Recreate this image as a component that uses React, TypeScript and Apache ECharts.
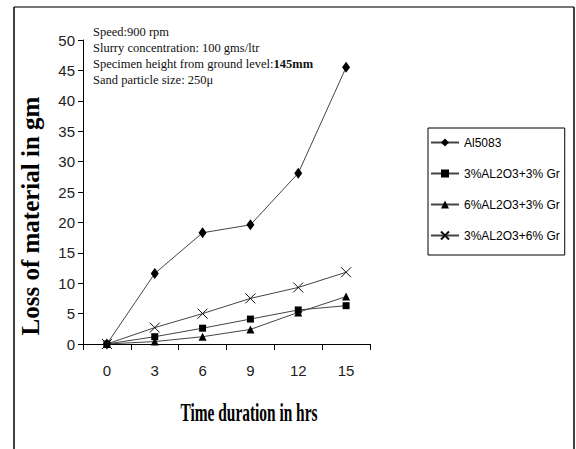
import React, { useEffect, useRef } from "react";
import * as echarts from "echarts";

const categories = ["0", "3", "6", "9", "12", "15"];
const seriesNames = ["Al5083", "3%AL2O3+3% Gr", "6%AL2O3+3% Gr", "3%AL2O3+6% Gr"];
const al5083 = [0, 11.6, 18.3, 19.6, 28.1, 45.5];
const al3gr3 = [0, 1.2, 2.6, 4.1, 5.6, 6.3];
const al6gr3 = [0, 0.4, 1.2, 2.4, 5.2, 7.8];
const al3gr6 = [0, 2.7, 5.0, 7.5, 9.3, 11.8];
const yTicks = { min: 0, max: 50, interval: 5 };
const notes = [
  "Speed:900 rpm",
  "Slurry concentration: 100 gms/ltr",
  "Specimen height from ground level:",
  "Sand particle size: 250\u03bc",
];
const noteBold = "145mm";

const sans = "'Liberation Sans', Arial, sans-serif";
const serif = "'Liberation Serif', 'Times New Roman', serif";

export default function App() {
  const ref = useRef<HTMLDivElement>(null);
  useEffect(() => {
    if (!ref.current) return;
    const chart = echarts.init(ref.current, null, { renderer: "svg" });
    const lineStyle = { color: "#444", width: 1 };
    const mk = (name: string, data: number[], symbol: string, size: any, hollow = false) => ({
      name,
      type: "line",
      data,
      symbol,
      symbolSize: size,
      showSymbol: true,
      lineStyle,
      itemStyle: hollow
        ? { color: "rgba(0,0,0,0)", borderColor: "#111", borderWidth: 1 }
        : { color: "#000", borderWidth: 0 },
      emphasis: { disabled: true },
    });
    chart.setOption({
      animation: false,
      backgroundColor: "#fff",
      grid: { left: 83, top: 40, width: 287, height: 304, containLabel: false },
      xAxis: {
        type: "category",
        data: categories,
        boundaryGap: true,
        axisLine: { show: true, lineStyle: { color: "#000", width: 1 } },
        axisTick: { show: true, length: 6, lineStyle: { color: "#000" } },
        axisLabel: { color: "#222", fontFamily: sans, fontSize: 15, margin: 19 },
        splitLine: { show: false },
      },
      yAxis: {
        type: "value",
        min: yTicks.min,
        max: yTicks.max,
        interval: yTicks.interval,
        axisLine: { show: true, lineStyle: { color: "#000", width: 1 } },
        axisTick: { show: true, length: 5, lineStyle: { color: "#000" } },
        axisLabel: { color: "#222", fontFamily: sans, fontSize: 15, margin: 8 },
        splitLine: { show: false },
      },
      legend: {
        orient: "vertical",
        left: 428,
        top: 128,
        padding: [7, 5, 12, 2],
        itemWidth: 28,
        itemHeight: 10,
        itemGap: 16,
        borderColor: "#000",
        borderWidth: 1,
        data: seriesNames,
        textStyle: { fontFamily: sans, fontSize: 12, color: "#000", lineHeight: 15 },
      },
      series: [
        mk(seriesNames[0], al5083, "diamond", [8, 11]),
        mk(seriesNames[1], al3gr3, "rect", 7),
        mk(seriesNames[2], al6gr3, "triangle", 8),
        mk(seriesNames[3], al3gr6, "path://M0,0L10,10M10,0L0,10", 10, true),
      ],
      graphic: [
        { type: "line", shape: { x1: 14, y1: 7, x2: 574, y2: 7 }, style: { stroke: "#777", lineWidth: 2 } },
        { type: "line", shape: { x1: 14, y1: 7, x2: 14, y2: 449 }, style: { stroke: "#000", lineWidth: 1.5 } },
        { type: "line", shape: { x1: 574, y1: 7, x2: 574, y2: 449 }, style: { stroke: "#000", lineWidth: 1.5 } },
        ...notes.map((t, i) => ({
          type: "text",
          x: 93,
          y: 32 + i * 16,
          style: {
            text: i === 2 ? `{a|${t}}{b|${noteBold}}` : t,
            fontFamily: serif,
            fontSize: 12.5,
            fill: "#111",
            verticalAlign: "middle",
            rich: {
              a: { fontFamily: serif, fontSize: 12.5, fill: "#111" },
              b: { fontWeight: "bold", fontFamily: serif, fontSize: 12.5, fill: "#111" },
            },
          },
        })),
        {
          type: "text",
          x: 249,
          y: 413,
          scaleY: 1.6,
          style: {
            text: "Time duration in hrs",
            font: `bold 15.4px ${serif}`,
            fill: "#000",
            align: "center",
            verticalAlign: "middle",
          },
        },
        {
          type: "text",
          x: 30,
          y: 216,
          rotation: Math.PI / 2,
          style: {
            text: "Loss of material in gm",
            font: `bold 25px ${serif}`,
            fill: "#000",
            align: "center",
            verticalAlign: "middle",
          },
        },
      ],
    });
    return () => chart.dispose();
  }, []);
  return (
    <div
      ref={ref}
      style={{ position: "fixed", left: 0, top: 0, width: 576, height: 449 }}
    />
  );
}
